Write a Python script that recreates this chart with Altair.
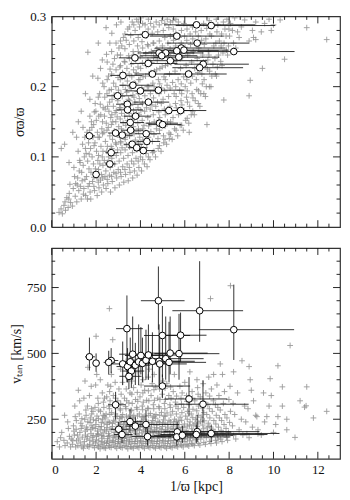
import altair as alt
import pandas as pd

# ---------------- top panel: background stars (1/plx [kpc], sigma_plx/plx) ----------------
top_bg = [
    (0.33, .021), (0.42, .026), (0.48, .019),
    (0.55, .031), (0.62, .024), (0.68, .042), (0.60, .036),
    (0.74, .028), (0.79, .048), (0.85, .035), (0.82, .061), (0.77, .040),
    (0.93, .030), (0.97, .055), (1.03, .072), (1.06, .044), (1.00, .085), (1.08, .062),
    (1.13, .036), (1.17, .070), (1.22, .052), (1.26, .095), (1.19, .108), (1.24, .080), (1.15, .060),
    (1.33, .040), (1.37, .066), (1.42, .088), (1.45, .055), (1.39, .118), (1.47, .100), (1.35, .078), (1.43, .047),
    (1.53, .045), (1.57, .072), (1.62, .094), (1.66, .120), (1.59, .135), (1.64, .058), (1.55, .105), (1.68, .083), (1.61, .040),
    (1.73, .050), (1.77, .078), (1.82, .100), (1.86, .128), (1.79, .150), (1.84, .065), (1.75, .112), (1.88, .090), (1.81, .142), (1.76, .040),
    (1.93, .052), (1.97, .083), (2.02, .108), (2.06, .135), (1.99, .165), (2.04, .070), (1.95, .120), (2.08, .095), (2.01, .152), (1.96, .176), (2.05, .045),
    (2.13, .056), (2.17, .090), (2.22, .115), (2.26, .140), (2.19, .175), (2.24, .075), (2.15, .128), (2.28, .100), (2.21, .160), (2.16, .190), (2.25, .050), (2.20, .067),
    (2.33, .060), (2.37, .095), (2.42, .122), (2.46, .148), (2.39, .185), (2.44, .080), (2.35, .135), (2.48, .108), (2.41, .168), (2.36, .200), (2.45, .055), (2.40, .072), (2.38, .158),
    (2.53, .062), (2.57, .100), (2.62, .130), (2.66, .156), (2.59, .195), (2.64, .085), (2.55, .142), (2.68, .115), (2.61, .178), (2.56, .215), (2.65, .050), (2.60, .074), (2.58, .165), (2.63, .225),
    (2.73, .065), (2.77, .105), (2.82, .137), (2.86, .163), (2.79, .205), (2.84, .090), (2.75, .150), (2.88, .120), (2.81, .188), (2.76, .232), (2.85, .056), (2.80, .078), (2.78, .172), (2.83, .240), (2.74, .125),
    (2.93, .070), (2.97, .110), (3.02, .143), (3.06, .170), (2.99, .213), (3.04, .094), (2.95, .157), (3.08, .128), (3.01, .195), (2.96, .245), (3.05, .060), (3.00, .082), (2.98, .180), (3.03, .255), (2.94, .132), (3.07, .228),
    (3.13, .072), (3.17, .113), (3.22, .148), (3.26, .176), (3.19, .220), (3.24, .098), (3.15, .162), (3.28, .133), (3.21, .202), (3.16, .258), (3.25, .064), (3.20, .086), (3.18, .186), (3.23, .270), (3.14, .140), (3.27, .236), (3.11, .120),
    (3.33, .075), (3.37, .117), (3.42, .152), (3.46, .182), (3.39, .226), (3.44, .102), (3.35, .168), (3.48, .138), (3.41, .208), (3.36, .266), (3.45, .066), (3.40, .090), (3.38, .192), (3.43, .282), (3.34, .145), (3.47, .244), (3.31, .125),
    (3.53, .078), (3.57, .120), (3.62, .157), (3.66, .188), (3.59, .232), (3.64, .106), (3.55, .173), (3.68, .143), (3.61, .214), (3.56, .273), (3.65, .070), (3.60, .094), (3.58, .198), (3.63, .292), (3.54, .150), (3.67, .250), (3.51, .130),
    (3.73, .080), (3.77, .124), (3.82, .162), (3.86, .193), (3.79, .238), (3.84, .110), (3.75, .178), (3.88, .148), (3.81, .220), (3.76, .280), (3.85, .074), (3.80, .098), (3.78, .204), (3.83, .296), (3.74, .155), (3.87, .258), (3.71, .136),
    (3.93, .085), (3.97, .128), (4.02, .166), (4.06, .198), (3.99, .243), (4.04, .114), (3.95, .183), (4.08, .152), (4.01, .226), (3.96, .285), (4.05, .080), (4.00, .100), (3.98, .210), (4.03, .298), (3.94, .160), (4.07, .264), (3.91, .140),
    (4.18, .090), (4.22, .133), (4.27, .170), (4.31, .200), (4.24, .247), (4.29, .118), (4.20, .187), (4.33, .156), (4.26, .230), (4.21, .288), (4.30, .086), (4.25, .105), (4.23, .215), (4.28, .272), (4.19, .165), (4.32, .260), (4.16, .145),
    (4.43, .096), (4.47, .136), (4.52, .174), (4.56, .205), (4.49, .250), (4.54, .122), (4.45, .190), (4.58, .160), (4.51, .234), (4.46, .290), (4.55, .106), (4.48, .220), (4.53, .276), (4.44, .168), (4.57, .262), (4.41, .148),
    (4.68, .100), (4.72, .140), (4.77, .178), (4.81, .210), (4.74, .254), (4.79, .126), (4.70, .194), (4.83, .164), (4.76, .238), (4.71, .292), (4.80, .112), (4.73, .224), (4.78, .278), (4.69, .172), (4.82, .152),
    (4.93, .108), (4.97, .146), (5.02, .182), (5.06, .214), (4.99, .258), (5.04, .130), (4.95, .198), (5.08, .168), (5.01, .242), (4.96, .294), (5.05, .120), (4.98, .228), (5.03, .280), (4.94, .176),
    (5.18, .118), (5.22, .150), (5.27, .186), (5.31, .218), (5.24, .262), (5.29, .134), (5.20, .202), (5.33, .172), (5.26, .246), (5.21, .296), (5.30, .126), (5.23, .232), (5.28, .284),
    (5.43, .125), (5.47, .156), (5.52, .190), (5.56, .222), (5.49, .266), (5.54, .140), (5.45, .206), (5.58, .176), (5.51, .250), (5.46, .294), (5.55, .236), (5.48, .282),
    (5.68, .130), (5.72, .160), (5.77, .195), (5.81, .226), (5.74, .270), (5.79, .145), (5.70, .210), (5.83, .180), (5.76, .254), (5.71, .292), (5.80, .240),
    (5.93, .138), (5.97, .166), (6.02, .200), (6.06, .230), (5.99, .272), (6.04, .152), (5.95, .214), (6.08, .185), (6.01, .256), (5.96, .290),
    (6.18, .148), (6.22, .172), (6.27, .205), (6.31, .235), (6.24, .275), (6.29, .160), (6.20, .220), (6.33, .190), (6.26, .260),
    (6.43, .160), (6.47, .180), (6.52, .210), (6.56, .240), (6.49, .278), (6.54, .196), (6.45, .226), (6.51, .262),
    (6.68, .172), (6.72, .190), (6.77, .218), (6.81, .245), (6.74, .280), (6.79, .204), (6.70, .232), (6.76, .266),
    (6.93, .186), (6.97, .200), (7.02, .225), (7.06, .250), (6.99, .283), (7.04, .238), (6.95, .268),
    (7.18, .200), (7.22, .215), (7.27, .232), (7.31, .258), (7.24, .286), (7.20, .272),
    (7.43, .215), (7.47, .228), (7.52, .245), (7.56, .265), (7.49, .288), (7.45, .278),
    (7.68, .230), (7.72, .248), (7.77, .262), (7.81, .282), (7.74, .292),
    (7.93, .245), (7.97, .258), (8.02, .272), (8.06, .290), (7.99, .282),
    (8.30, .255), (8.45, .270), (8.55, .285), (8.70, .295), (8.38, .278),
    (8.90, .265), (9.05, .280), (9.20, .292), (9.10, .270),
    (9.45, .278), (9.60, .290), (9.80, .296), (10.0, .288), (10.3, .295),
    (12.4, .267), (11.5, .284), (10.5, .239), (9.50, .226), (8.90, .187), (7.00, .146), (6.20, .135),
    (9.90, .280), (7.76, .181), (8.95, .209), (9.20, .267), (0.43, .112), (0.58, .118), (0.95, .135),
    (1.33, .165), (1.63, .249), (2.45, .284), (1.20, .150), (2.10, .262),
    (1.52, .190), (1.85, .215), (2.28, .238), (2.62, .262), (2.92, .288), (1.12, .128), (0.78, .092),
    (2.08, .212), (2.47, .246), (2.71, .276), (1.72, .182), (1.41, .142), (3.12, .292), (2.20, .226),
]
top_bg_more = [
    (1.30, .058), (1.28, .092),
    (1.50, .068), (1.52, .112), (1.49, .128),
    (1.70, .062), (1.69, .104), (1.71, .138), (1.72, .158),
    (1.90, .071), (1.91, .116), (1.89, .146), (1.92, .164), (1.90, .058),
    (2.10, .064), (2.11, .102), (2.09, .128), (2.12, .158), (2.10, .185), (2.11, .082),
    (2.30, .070), (2.31, .108), (2.29, .133), (2.32, .170), (2.30, .205), (2.31, .088), (2.29, .150),
    (2.50, .068), (2.51, .115), (2.49, .138), (2.52, .172), (2.50, .210), (2.51, .092), (2.49, .190), (2.50, .235),
    (2.70, .072), (2.71, .112), (2.69, .146), (2.72, .182), (2.70, .218), (2.71, .098), (2.69, .196), (2.70, .250), (2.71, .160),
    (2.90, .076), (2.91, .118), (2.89, .150), (2.92, .188), (2.90, .224), (2.91, .102), (2.89, .200), (2.90, .262), (2.91, .166), (2.90, .136),
    (3.10, .078), (3.11, .122), (3.09, .154), (3.12, .190), (3.10, .230), (3.11, .106), (3.09, .210), (3.10, .265), (3.11, .170), (3.10, .245),
    (3.30, .082), (3.31, .128), (3.29, .158), (3.32, .196), (3.30, .235), (3.31, .110), (3.29, .214), (3.30, .275), (3.31, .174), (3.30, .254),
    (3.50, .085), (3.51, .130), (3.49, .162), (3.52, .200), (3.50, .240), (3.51, .114), (3.49, .218), (3.50, .285), (3.51, .180), (3.50, .260),
    (3.70, .090), (3.71, .133), (3.69, .166), (3.72, .205), (3.70, .245), (3.71, .117), (3.69, .224), (3.70, .288), (3.71, .185), (3.70, .265),
    (3.90, .094), (3.91, .136), (3.89, .170), (3.92, .210), (3.90, .250), (3.91, .120), (3.89, .228), (3.90, .292), (3.91, .190), (3.90, .270),
    (4.10, .096), (4.11, .140), (4.09, .176), (4.12, .214), (4.10, .255), (4.11, .124), (4.09, .234), (4.10, .290), (4.11, .195), (4.10, .275),
    (4.36, .100), (4.37, .144), (4.34, .180), (4.38, .218), (4.35, .258), (4.36, .128), (4.34, .238), (4.35, .282), (4.37, .200), (4.36, .296),
    (4.61, .108), (4.62, .150), (4.59, .184), (4.63, .222), (4.60, .262), (4.61, .132), (4.59, .242), (4.60, .285), (4.62, .200),
    (4.86, .116), (4.87, .156), (4.84, .190), (4.88, .226), (4.85, .265), (4.86, .138), (4.84, .246), (4.85, .288), (4.87, .204),
    (5.11, .125), (5.12, .160), (5.09, .194), (5.13, .230), (5.10, .270), (5.11, .144), (5.09, .250), (5.10, .290), (5.12, .210),
    (5.36, .132), (5.37, .166), (5.34, .198), (5.38, .234), (5.35, .272), (5.36, .150), (5.34, .254), (5.35, .292),
    (5.61, .138), (5.62, .170), (5.59, .200), (5.63, .238), (5.60, .276), (5.61, .186), (5.59, .258), (5.60, .296),
    (5.86, .145), (5.87, .174), (5.84, .204), (5.88, .242), (5.85, .280), (5.86, .190), (5.84, .262),
    (6.11, .155), (6.12, .178), (6.09, .210), (6.13, .245), (6.10, .282), (6.11, .194), (6.09, .266),
    (6.36, .165), (6.37, .184), (6.34, .215), (6.38, .250), (6.35, .285), (6.36, .268),
    (6.61, .176), (6.62, .194), (6.59, .220), (6.63, .255), (6.60, .288), (6.61, .272),
    (6.86, .190), (6.87, .210), (6.84, .235), (6.88, .260), (6.85, .290),
    (7.11, .200), (7.12, .222), (7.09, .245), (7.13, .275), (7.10, .294),
    (7.38, .218), (7.36, .240), (7.40, .262), (7.42, .296),
    (7.62, .236), (7.64, .258), (7.66, .275),
    (7.88, .252), (7.86, .272), (7.90, .296),
    (8.20, .262), (8.15, .280), (8.25, .298),
]

# ---------------- bottom panel: background stars (1/plx [kpc], v_tan [km/s]) ----------------
bot_bg = [
    (0.25, 165), (0.40, 180), (0.55, 170), (0.45, 200), (0.60, 150), (0.35, 145), (0.58, 265),
    (0.70, 160), (0.80, 185), (0.75, 215), (0.85, 145), (0.72, 240), (0.88, 175),
    (0.93, 155), (1.02, 190), (0.98, 225), (1.06, 260), (0.95, 170), (1.08, 145), (1.00, 205), (1.04, 300),
    (1.18, 150), (1.22, 175), (1.27, 200), (1.31, 235), (1.24, 270), (1.20, 360), (1.29, 160), (1.33, 215), (1.16, 190), (1.26, 320),
    (1.43, 140), (1.47, 165), (1.52, 190), (1.56, 220), (1.49, 250), (1.54, 285), (1.45, 330), (1.58, 175), (1.51, 205), (1.46, 152), (1.55, 265), (1.63, 447), (1.50, 395),
    (1.68, 145), (1.72, 170), (1.77, 195), (1.81, 225), (1.74, 255), (1.79, 290), (1.70, 340), (1.83, 180), (1.76, 210), (1.71, 155), (1.80, 270), (1.78, 375), (1.73, 238),
    (1.93, 142), (1.97, 160), (2.02, 185), (2.06, 205), (1.99, 230), (2.04, 262), (1.95, 295), (2.08, 330), (2.01, 172), (1.96, 215), (2.05, 150), (2.00, 245), (1.98, 380), (2.03, 420), (2.00, 565), (2.07, 195),
    (2.18, 138), (2.22, 155), (2.27, 178), (2.31, 198), (2.24, 222), (2.29, 250), (2.20, 280), (2.33, 315), (2.26, 165), (2.21, 210), (2.30, 148), (2.23, 238), (2.28, 350), (2.19, 400), (2.25, 188), (2.32, 265),
    (2.43, 140), (2.47, 158), (2.52, 176), (2.56, 195), (2.49, 218), (2.54, 240), (2.45, 270), (2.58, 300), (2.51, 168), (2.46, 205), (2.55, 150), (2.50, 230), (2.48, 335), (2.53, 380), (2.60, 670), (2.57, 185), (2.44, 255), (2.75, 552),
    (2.68, 143), (2.72, 162), (2.77, 180), (2.81, 200), (2.74, 222), (2.79, 246), (2.70, 275), (2.83, 305), (2.76, 170), (2.71, 212), (2.80, 152), (2.73, 234), (2.78, 340), (2.69, 420), (2.82, 190), (2.86, 260), (2.66, 375),
    (2.93, 140), (2.97, 158), (3.02, 174), (3.06, 193), (2.99, 215), (3.04, 238), (2.95, 262), (3.08, 290), (3.01, 165), (2.96, 205), (3.05, 148), (3.00, 228), (2.98, 320), (3.03, 365), (2.94, 183), (3.07, 252), (3.10, 440),
    (3.18, 142), (3.22, 160), (3.27, 178), (3.31, 196), (3.24, 218), (3.29, 242), (3.20, 268), (3.33, 298), (3.26, 168), (3.21, 208), (3.30, 150), (3.23, 230), (3.28, 330), (3.19, 390), (3.32, 186), (3.17, 256), (3.35, 470),
    (3.43, 138), (3.47, 156), (3.52, 172), (3.56, 190), (3.49, 212), (3.54, 234), (3.45, 258), (3.58, 285), (3.51, 164), (3.46, 200), (3.55, 146), (3.50, 224), (3.48, 312), (3.53, 350), (3.44, 180), (3.57, 248), (3.42, 410),
    (3.68, 140), (3.72, 158), (3.77, 176), (3.81, 195), (3.74, 216), (3.79, 240), (3.70, 265), (3.83, 295), (3.76, 166), (3.71, 206), (3.80, 148), (3.73, 228), (3.78, 325), (3.69, 370), (3.82, 185), (3.67, 252), (3.85, 430),
    (3.93, 142), (3.97, 160), (4.02, 178), (4.06, 198), (3.99, 220), (4.04, 244), (3.95, 270), (4.08, 300), (4.01, 168), (3.96, 208), (4.05, 150), (4.00, 232), (3.98, 335), (4.03, 380), (3.94, 188), (4.07, 258), (3.91, 455),
    (4.18, 140), (4.22, 158), (4.27, 176), (4.31, 194), (4.24, 215), (4.29, 238), (4.20, 262), (4.33, 292), (4.26, 166), (4.21, 204), (4.30, 148), (4.23, 226), (4.28, 322), (4.19, 360), (4.32, 184), (4.16, 250), (4.35, 410),
    (4.43, 142), (4.47, 160), (4.52, 178), (4.56, 198), (4.49, 220), (4.54, 245), (4.45, 272), (4.58, 305), (4.51, 168), (4.46, 208), (4.55, 150), (4.50, 232), (4.48, 340), (4.53, 385), (4.44, 188), (4.57, 258), (4.41, 440),
    (4.68, 140), (4.72, 158), (4.77, 176), (4.81, 196), (4.74, 218), (4.79, 242), (4.70, 268), (4.83, 298), (4.76, 166), (4.71, 206), (4.80, 148), (4.73, 228), (4.78, 330), (4.69, 372), (4.82, 186), (4.67, 254),
    (4.93, 142), (4.97, 160), (5.02, 180), (5.06, 200), (4.99, 222), (5.04, 248), (4.95, 276), (5.08, 310), (5.01, 170), (4.96, 210), (5.05, 150), (5.00, 235), (4.98, 345), (5.03, 395), (4.94, 190), (5.07, 262),
    (5.18, 140), (5.22, 158), (5.27, 178), (5.31, 198), (5.24, 220), (5.29, 246), (5.20, 274), (5.33, 305), (5.26, 168), (5.21, 208), (5.30, 148), (5.23, 232), (5.28, 340), (5.19, 385), (5.32, 188),
    (5.43, 142), (5.47, 160), (5.52, 180), (5.56, 200), (5.49, 224), (5.54, 250), (5.45, 280), (5.58, 315), (5.51, 170), (5.46, 212), (5.55, 150), (5.50, 236), (5.48, 355), (5.53, 420), (5.44, 190),
    (5.68, 145), (5.72, 165), (5.77, 185), (5.81, 206), (5.74, 230), (5.79, 258), (5.70, 290), (5.83, 330), (5.76, 175), (5.71, 218), (5.80, 155), (5.73, 244), (5.78, 375),
    (5.93, 145), (5.97, 165), (6.02, 186), (6.06, 208), (5.99, 232), (6.04, 262), (5.95, 295), (6.08, 340), (6.01, 176), (5.96, 220), (6.05, 155), (6.00, 390),
    (6.18, 148), (6.22, 168), (6.27, 190), (6.31, 214), (6.24, 240), (6.29, 270), (6.20, 305), (6.33, 355), (6.26, 180), (6.21, 228), (6.30, 158), (6.23, 430),
    (6.43, 150), (6.47, 172), (6.52, 196), (6.56, 222), (6.49, 250), (6.54, 282), (6.45, 320), (6.58, 370), (6.51, 185), (6.46, 235), (6.55, 400),
    (6.68, 152), (6.72, 175), (6.77, 200), (6.81, 228), (6.74, 258), (6.79, 292), (6.70, 335), (6.83, 385), (6.76, 188), (6.71, 242),
    (6.93, 155), (6.97, 180), (7.02, 205), (7.06, 235), (6.99, 268), (7.04, 305), (6.95, 350), (7.08, 410), (7.01, 220),
    (7.18, 158), (7.22, 185), (7.27, 212), (7.31, 245), (7.24, 280), (7.29, 320), (7.20, 365), (7.16, 708), (7.26, 198),
    (7.43, 160), (7.47, 190), (7.52, 220), (7.56, 255), (7.49, 295), (7.54, 340), (7.45, 380), (7.50, 175),
    (7.68, 165), (7.72, 195), (7.77, 230), (7.81, 268), (7.74, 310), (7.79, 355), (7.70, 420),
    (7.93, 170), (7.97, 200), (8.02, 238), (8.06, 280), (7.99, 325), (8.04, 375), (8.06, 757),
    (8.30, 175), (8.45, 210), (8.55, 250), (8.70, 300), (8.38, 350), (8.58, 472), (8.62, 190),
    (8.90, 180), (9.05, 220), (9.20, 265), (9.10, 320), (8.95, 400), (9.30, 195),
    (9.45, 190), (9.60, 240), (9.80, 300), (9.55, 350), (9.85, 404),
    (10.0, 200), (10.2, 260), (10.4, 373), (10.2, 453), (10.1, 230),
    (10.75, 530), (10.6, 210), (10.97, 181), (11.5, 373), (11.47, 301), (11.8, 255), (12.4, 280), (11.2, 320), (11.4, 296),
]
bot_bg_more = [
    (1.12, 168), (1.10, 212), (1.11, 245),
    (1.36, 145), (1.38, 182), (1.37, 225), (1.36, 252),
    (1.61, 148), (1.62, 185), (1.60, 212), (1.63, 240), (1.61, 300),
    (1.86, 150), (1.87, 188), (1.85, 218), (1.88, 248), (1.86, 280), (1.87, 165),
    (2.11, 145), (2.12, 168), (2.10, 192), (2.13, 222), (2.11, 252), (2.12, 285), (2.10, 310),
    (2.36, 142), (2.37, 162), (2.35, 185), (2.38, 210), (2.36, 235), (2.37, 262), (2.35, 295), (2.38, 330),
    (2.61, 145), (2.62, 164), (2.60, 188), (2.63, 212), (2.61, 238), (2.62, 268), (2.60, 290), (2.63, 320), (2.61, 355),
    (2.86, 146), (2.87, 166), (2.85, 186), (2.88, 210), (2.86, 240), (2.87, 270), (2.85, 298), (2.88, 330), (2.86, 390),
    (3.11, 144), (3.12, 163), (3.10, 184), (3.13, 206), (3.11, 232), (3.12, 260), (3.10, 285), (3.13, 345), (3.11, 310),
    (3.36, 146), (3.37, 168), (3.35, 188), (3.38, 212), (3.36, 236), (3.37, 262), (3.35, 290), (3.38, 320), (3.36, 365),
    (3.61, 144), (3.62, 165), (3.60, 185), (3.63, 208), (3.61, 232), (3.62, 258), (3.60, 282), (3.63, 310), (3.61, 345), (3.62, 395),
    (3.86, 146), (3.87, 167), (3.85, 190), (3.88, 212), (3.86, 236), (3.87, 262), (3.85, 288), (3.88, 318), (3.86, 352),
    (4.11, 145), (4.12, 165), (4.10, 186), (4.13, 210), (4.11, 234), (4.12, 260), (4.10, 286), (4.13, 315), (4.11, 350), (4.12, 400),
    (4.36, 146), (4.37, 168), (4.35, 190), (4.38, 214), (4.36, 238), (4.37, 265), (4.35, 290), (4.38, 320), (4.36, 358),
    (4.61, 144), (4.62, 166), (4.60, 188), (4.63, 212), (4.61, 236), (4.62, 262), (4.60, 290), (4.63, 322), (4.61, 362), (4.62, 420),
    (4.86, 146), (4.87, 168), (4.85, 190), (4.88, 214), (4.86, 238), (4.87, 265), (4.85, 292), (4.88, 325), (4.86, 365),
    (5.11, 145), (5.12, 166), (5.10, 188), (5.13, 212), (5.11, 236), (5.12, 262), (5.10, 290), (5.13, 325), (5.11, 368),
    (5.36, 146), (5.37, 168), (5.35, 190), (5.38, 214), (5.36, 240), (5.37, 266), (5.35, 295), (5.38, 330), (5.36, 372),
    (5.61, 148), (5.62, 170), (5.60, 192), (5.63, 216), (5.61, 242), (5.62, 270), (5.60, 300), (5.63, 338),
    (5.86, 150), (5.87, 172), (5.85, 196), (5.88, 220), (5.86, 246), (5.87, 275), (5.85, 308), (5.88, 350),
    (6.11, 152), (6.12, 175), (6.10, 198), (6.13, 224), (6.11, 250), (6.12, 280), (6.10, 318),
    (6.36, 155), (6.37, 178), (6.35, 202), (6.38, 228), (6.36, 256), (6.37, 288), (6.35, 330),
    (6.61, 158), (6.62, 182), (6.60, 208), (6.63, 236), (6.61, 265), (6.62, 300), (6.60, 345),
    (6.86, 162), (6.87, 188), (6.85, 214), (6.88, 244), (6.86, 275), (6.87, 315),
    (7.11, 166), (7.12, 192), (7.10, 222), (7.13, 255), (7.11, 290), (7.12, 338),
    (7.38, 170), (7.36, 200), (7.40, 232), (7.42, 265), (7.38, 305),
    (7.62, 175), (7.64, 208), (7.66, 245), (7.60, 285),
    (7.88, 182), (7.86, 215), (7.90, 255),
    (8.20, 188), (8.15, 225), (8.25, 268), (8.18, 310),
    (8.80, 195), (8.75, 240), (8.85, 290),
    (9.30, 210), (9.25, 260),
    (7.30, 420), (8.20, 430), (9.00, 360), (9.70, 260), (10.4, 300), (10.6, 250), (9.90, 340), (8.90, 450), (7.60, 460),
]

# ---------------- highlighted stars, top panel ----------------
top_x = [4.22, 4.84, 5.14, 4.96, 3.75, 4.35, 5.35, 3.21, 4.54, 3.66, 4.0, 4.81, 2.97, 4.36, 3.41,
         3.42, 5.28, 3.78, 3.54, 4.86, 5.0, 1.70, 2.88, 3.56, 3.18, 4.26, 4.29, 3.63, 3.83, 4.13,
         2.68, 2.62, 2.0, 6.53, 7.19, 5.64, 6.56, 5.84, 5.64, 5.96, 8.21, 5.73, 6.83, 6.67, 6.17, 5.81]
top_f = [.274, .248, .248, .244, .241, .233, .237, .216, .218, .202, .194, .195, .187, .178, .175,
         .167, .166, .158, .149, .148, .146, .130, .134, .138, .131, .133, .122, .118, .113, .109,
         .106, .090, .075, .288, .287, .272, .262, .255, .251, .252, .250, .242, .232, .227, .218, .166]
top_xlo = [3.31, 3.88, 4.12, 3.99, 3.02, 3.53, 4.33, 2.64, 3.73, 3.05, 3.35, 4.03, 2.50, 3.70, 2.90,
           2.93, 4.53, 3.26, 3.08, 4.23, 4.36, 1.50, 2.54, 3.13, 2.81, 3.76, 3.82, 3.25, 3.44, 3.72,
           2.42, 2.40, 1.86, 5.07, 5.59, 4.43, 5.20, 4.65, 4.51, 4.76, 6.57, 4.61, 5.54, 5.44, 5.07, 4.98]
top_xhi = [5.81, 6.44, 6.84, 6.56, 4.94, 5.67, 7.01, 4.09, 5.81, 4.59, 4.96, 5.98, 3.65, 5.30, 4.13,
           4.11, 6.33, 4.49, 4.16, 5.70, 5.85, 1.95, 3.33, 4.13, 3.66, 4.91, 4.89, 4.12, 4.32, 4.64,
           3.00, 2.88, 2.16, 9.17, 10.08, 7.75, 8.89, 7.84, 7.53, 7.97, 10.95, 7.56, 8.89, 8.63, 7.89, 6.97]

# ---------------- highlighted stars, bottom panel ----------------
bot_x = [1.70, 2.00, 2.68, 2.57, 3.39, 4.81, 4.99, 6.67, 8.21, 5.81, 5.74, 2.88, 4.99, 6.19, 6.82,
         3.02, 3.17, 3.53, 3.77, 4.25, 4.32, 5.66, 5.64, 5.89, 6.56, 6.52, 7.19, 3.20, 3.42, 3.54,
         3.65, 3.77, 3.92, 3.59, 3.48, 4.02, 4.09, 4.25, 4.36, 4.54, 4.84, 4.87, 5.14, 5.29, 5.34]
bot_v = [487, 463, 473, 466, 594, 700, 568, 662, 590, 569, 499, 305, 376, 327, 307,
         212, 192, 241, 224, 230, 184, 202, 183, 189, 203, 192, 196, 460, 450, 468,
         497, 455, 468, 433, 413, 492, 462, 474, 494, 470, 470, 460, 480, 466, 501]
bot_xlo = [1.50, 1.86, 2.42, 2.34, 2.90, 4.02, 4.16, 5.44, 6.64, 4.97, 4.63, 2.54, 4.16, 5.08, 5.54,
           2.67, 2.81, 3.10, 3.28, 3.37, 3.60, 4.35, 4.34, 4.60, 5.05, 4.90, 5.53, 2.67, 2.92, 3.08,
           3.04, 3.28, 3.27, 3.15, 3.05, 3.30, 3.41, 3.54, 3.49, 3.72, 3.87, 4.06, 4.11, 4.27, 4.31]
bot_xhi = [1.95, 2.16, 3.00, 2.86, 4.11, 5.99, 6.24, 8.63, 10.93, 6.98, 7.56, 3.33, 6.24, 7.92, 8.88,
           3.47, 3.64, 4.10, 4.44, 5.74, 5.40, 8.09, 8.06, 8.18, 9.37, 9.73, 10.27, 4.00, 4.12, 4.16,
           4.56, 4.44, 4.90, 4.17, 4.05, 5.15, 5.11, 5.31, 5.81, 5.82, 6.45, 6.09, 6.85, 6.96, 7.03]
bot_vlo = [435, 430, 425, 420, 390, 590, 410, 544, 475, 470, 400, 249, 330, 261, 237,
           175, 160, 200, 190, 174, 150, 165, 150, 160, 163, 160, 163, 380, 390, 400,
           400, 380, 380, 370, 365, 420, 390, 400, 400, 390, 380, 380, 400, 390, 420]
bot_vhi = [560, 500, 520, 510, 720, 830, 680, 850, 761, 655, 650, 354, 420, 410, 398,
           240, 225, 290, 260, 286, 215, 240, 215, 225, 267, 230, 230, 545, 520, 560,
           640, 540, 610, 500, 470, 600, 560, 590, 610, 580, 610, 560, 640, 620, 640]

# axis tick positions
x_major = [0, 2, 4, 6, 8, 10, 12]
x_minor = [0.5, 1, 1.5, 2.5, 3, 3.5, 4.5, 5, 5.5, 6.5, 7, 7.5, 8.5, 9, 9.5, 10.5, 11, 11.5, 12.5]
y1_labels = [0, 0.1, 0.2, 0.3]
y1_major = [0.1, 0.2]
y1_minor = [0.02, 0.04, 0.06, 0.08, 0.12, 0.14, 0.16, 0.18, 0.22, 0.24, 0.26, 0.28]
y2_major = [250, 500, 750]
y2_minor = [150, 200, 300, 350, 400, 450, 550, 600, 650, 700, 800, 850]

W, H1, H2 = 290, 212, 212
FONT = "Liberation Serif"
XS = alt.Scale(domain=[0, 13], nice=False, zero=False)
YS1 = alt.Scale(domain=[0, 0.3], nice=False, zero=False)
YS2 = alt.Scale(domain=[100, 900], nice=False, zero=False)
PLUS = "M-1,0H1M0,-1V1"

# identical axis definitions used by every layer of a panel (so they merge cleanly)
AX_XTOP = alt.Axis(values=x_major, labels=False, title="", ticks=False, domain=False, grid=False,
                   labelPadding=0, titlePadding=0)
AX_Y1 = alt.Axis(values=y1_labels, format=".1f", title="σϖ/ϖ", labelPadding=6, titlePadding=3)
AX_XBOT = alt.Axis(values=x_major, title="1/ϖ [kpc]", labelPadding=5, titlePadding=3)
AX_Y2 = alt.Axis(values=y2_major, title="vₜₐₙ [km/s]", labelPadding=6, titlePadding=3)


def tick_layers(yscale, ymaj, ymin, h, ax_x, ax_y):
    layers = []
    for vals, L in ((x_major, 7), (x_minor, 3.5)):
        d = pd.DataFrame({"t": vals})
        base = alt.Chart(d).mark_rule(color="#111", strokeWidth=0.9)
        layers.append(base.encode(x=alt.X("t:Q", scale=XS, axis=ax_x), y=alt.value(h), y2=alt.value(h - L)))
        layers.append(base.encode(x=alt.X("t:Q", scale=XS, axis=ax_x), y=alt.value(0), y2=alt.value(L)))
    for vals, L in ((ymaj, 7), (ymin, 3.5)):
        d = pd.DataFrame({"t": vals})
        base = alt.Chart(d).mark_rule(color="#111", strokeWidth=0.9)
        layers.append(base.encode(y=alt.Y("t:Q", scale=yscale, axis=ax_y), x=alt.value(0), x2=alt.value(L)))
        layers.append(base.encode(y=alt.Y("t:Q", scale=yscale, axis=ax_y), x=alt.value(W), x2=alt.value(W - L)))
    return layers


POINT_STYLE = dict(shape=PLUS, size=34, strokeWidth=0.9, color="#8a8a8a", opacity=0.85, filled=False, clip=True)

# ---------- top panel ----------
tbg = pd.DataFrame(top_bg + top_bg_more, columns=["x", "y"])
tc = pd.DataFrame({"x": top_x, "y": top_f, "xlo": top_xlo, "xhi": top_xhi})

top_points = alt.Chart(tbg).mark_point(**POINT_STYLE).encode(
    x=alt.X("x:Q", scale=XS, axis=AX_XTOP),
    y=alt.Y("y:Q", scale=YS1, axis=AX_Y1),
)
top_err = alt.Chart(tc).mark_rule(color="#111", strokeWidth=1, opacity=0.85, clip=True).encode(
    x=alt.X("xlo:Q", scale=XS, axis=AX_XTOP), x2="xhi:Q", y=alt.Y("y:Q", scale=YS1, axis=AX_Y1)
)
top_circ = alt.Chart(tc).mark_point(
    shape="circle", filled=True, fill="white", stroke="black", strokeWidth=1, size=45, opacity=1, clip=True
).encode(x=alt.X("x:Q", scale=XS, axis=AX_XTOP), y=alt.Y("y:Q", scale=YS1, axis=AX_Y1))

top = alt.layer(top_points, top_err, top_circ,
                *tick_layers(YS1, y1_major, y1_minor, H1, AX_XTOP, AX_Y1)).properties(width=W, height=H1)

# ---------- bottom panel ----------
bbg = pd.DataFrame(bot_bg + bot_bg_more, columns=["x", "v"])
bc = pd.DataFrame({"x": bot_x, "v": bot_v, "xlo": bot_xlo, "xhi": bot_xhi, "vlo": bot_vlo, "vhi": bot_vhi})

bot_points = alt.Chart(bbg).mark_point(**POINT_STYLE).encode(
    x=alt.X("x:Q", scale=XS, axis=AX_XBOT),
    y=alt.Y("v:Q", scale=YS2, axis=AX_Y2),
)
bot_herr = alt.Chart(bc).mark_rule(color="#111", strokeWidth=1, opacity=0.85, clip=True).encode(
    x=alt.X("xlo:Q", scale=XS, axis=AX_XBOT), x2="xhi:Q", y=alt.Y("v:Q", scale=YS2, axis=AX_Y2)
)
bot_verr = alt.Chart(bc).mark_rule(color="#111", strokeWidth=1, opacity=0.85, clip=True).encode(
    x=alt.X("x:Q", scale=XS, axis=AX_XBOT), y=alt.Y("vlo:Q", scale=YS2, axis=AX_Y2), y2="vhi:Q"
)
bot_circ = alt.Chart(bc).mark_point(
    shape="circle", filled=True, fill="white", stroke="black", strokeWidth=1, size=45, opacity=1, clip=True
).encode(x=alt.X("x:Q", scale=XS, axis=AX_XBOT), y=alt.Y("v:Q", scale=YS2, axis=AX_Y2))

bottom = alt.layer(bot_points, bot_herr, bot_verr, bot_circ,
                   *tick_layers(YS2, y2_major, y2_minor, H2, AX_XBOT, AX_Y2)).properties(width=W, height=H2)

chart = alt.vconcat(top, bottom, spacing=11).properties(
    padding={"left": 0, "top": 0, "right": 0, "bottom": 0}
).configure_view(
    stroke="#333", strokeWidth=1.2
).configure_axis(
    grid=False, ticks=False, domain=False,
    labelFont=FONT, titleFont=FONT, labelFontSize=13, titleFontSize=14,
    titleFontWeight="normal", labelColor="#111", titleColor="#111",
)

chart.save("out.html", embed_options={"renderer": "svg", "actions": False})
